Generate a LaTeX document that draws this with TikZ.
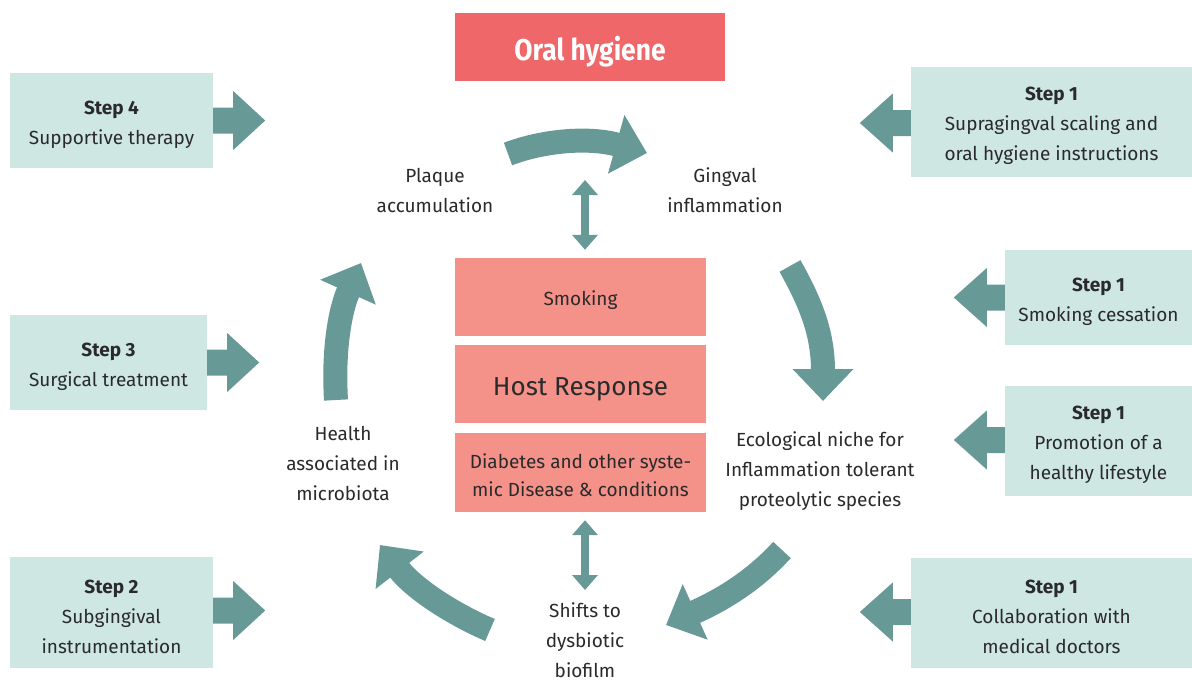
\documentclass[tikz,border=0pt]{standalone}
\usepackage{fontspec}
\setmainfont{Fira Sans}
\newfontfamily\titlefont{Fira Sans}[FakeStretch=0.88]
\usetikzlibrary{arrows.meta,calc}
\definecolor{arrowc}{HTML}{679A97}
\definecolor{lightbox}{HTML}{CEE7E3}
\definecolor{salmon}{HTML}{F4928A}
\definecolor{titlec}{HTML}{F0676A}
\definecolor{txt}{HTML}{2A2A2A}
\newcommand\mytopstrut[1]{\rule{0pt}{#1}}
\tikzset{
  stepbox/.style={fill=lightbox, inner sep=0pt, align=center, text=txt, font=\fontsize{19}{30}\selectfont},
  cbox/.style={fill=salmon, inner sep=0pt, align=center, text=txt, minimum width=251pt},
  lbl/.style={align=center, text=txt, font=\fontsize{19}{30}\selectfont},
  bigarr/.style={draw=arrowc, line width=24pt, -{Triangle[width=59pt,length=32pt]}},
  dbl/.style={draw=arrowc, line width=8pt, {Triangle[width=25pt,length=15pt]}-{Triangle[width=25pt,length=15pt]}},
  rarrow/.pic={\fill[arrowc] (0,-13) -- (20,-13) -- (20,-29.5) -- (52,0) -- (20,29.5) -- (20,13) -- (0,13) -- cycle;},
  larrow/.pic={\fill[arrowc] (0,-13) -- (-18,-13) -- (-18,-29.5) -- (-51,0) -- (-18,29.5) -- (-18,13) -- (0,13) -- cycle;}
}
\begin{document}
\begin{tikzpicture}[x=1pt,y=-1pt]
\useasboundingbox (0,0) rectangle (1192,680);
% title
\node[fill=titlec, minimum width=270pt, minimum height=68pt, inner sep=0pt, text=white,
  text height=26.5pt, text depth=0pt,
  font=\titlefont\bfseries\fontsize{30}{36}\selectfont] (oh) at (590,47) {Oral hygiene};
% left step boxes
\node[stepbox, minimum width=203pt, minimum height=95pt] (s4) at (111.5,120.5) {\mytopstrut{22pt}\textbf{Step 4}\\Supportive therapy};
\node[stepbox, minimum width=197pt, minimum height=95pt] (s3) at (108.5,362.5) {\mytopstrut{22pt}\textbf{Step 3}\\Surgical treatment};
\node[stepbox, minimum width=203pt, minimum height=111pt] (s2) at (111.5,612.5) {\mytopstrut{22pt}\textbf{Step 2}\\Subgingival\\instrumentation};
% right step boxes
\node[stepbox, minimum width=281pt, minimum height=110pt] (r1) at (1051.5,122) {\mytopstrut{22pt}\textbf{Step 1}\\Supragingval scaling and\\oral hygiene instructions};
\node[stepbox, minimum width=187pt, minimum height=95pt] (r2) at (1098.5,297.5) {\mytopstrut{22pt}\textbf{Step 1}\\Smoking cessation};
\node[stepbox, minimum width=187pt, minimum height=110pt] (r3) at (1098.5,441) {\mytopstrut{22pt}\textbf{Step 1}\\Promotion of a\\healthy lifestyle};
\node[stepbox, minimum width=281pt, minimum height=110pt] (r4) at (1051.5,613) {\mytopstrut{22pt}\textbf{Step 1}\\Collaboration with\\medical doctors};
% step arrows
\pic at (s4.east) {rarrow};
\pic at (s3.east) {rarrow};
\pic at ($(s2.east)+(0,-2)$) {rarrow};
\pic at ($(r1.west)+(0,1)$) {larrow};
\pic at (r2.west) {larrow};
\pic at ($(r3.west)+(0,-1)$) {larrow};
\pic at ($(r4.west)+(0,-1)$) {larrow};
% central boxes
\node[cbox, minimum height=78pt, text height=16.5pt, text depth=0pt, font=\fontsize{19}{24}\selectfont] (sm) at (580.5,297) {Smoking};
\node[cbox, minimum height=78pt, text height=22.2pt, text depth=0pt, font=\fontsize{26}{30}\selectfont] (hr) at (580.5,384) {Host Response};
\node[cbox, minimum height=79pt, font=\fontsize{19}{28}\selectfont] (db) at (580.5,472.5) {\mytopstrut{20pt}Diabetes and other syste-\\mic Disease \& conditions};
% labels
\node[lbl] (pa) at (435,190) {Plaque\\accumulation};
\node[lbl] (gi) at (725,190) {Gingval\\inflammation};
\node[lbl] (en) at (820,471) {Ecological niche for\\Inflammation tolerant\\proteolytic species};
\node[lbl] (sd) at (585,640) {Shifts to\\dysbiotic\\biofilm};
\node[lbl] (ha) at (343,463) {Health\\associated in\\microbiota};
% double arrows
\coordinate (dt) at (585,180);
\coordinate (dbm) at (585,590);
\draw[dbl] (dt) -- ($(dt |- sm.north)+(0,-8)$);
\draw[dbl] ($(dbm |- db.south)+(0,8)$) -- (dbm);
% curved cycle arrows
\draw[bigarr] (508,154) .. controls (545,140) and (590,137) .. (647,153);
\draw[bigarr] (790,266) .. controls (812,305) and (823,335) .. (823,401);
\draw[bigarr] (782,550) .. controls (750,585) and (715,603) .. (666,625);
\draw[bigarr] (490,630) .. controls (455,615) and (415,590) .. (380,545);
\draw[bigarr] (336,400) .. controls (333,350) and (340,310) .. (361,263);
\end{tikzpicture}
\end{document}
